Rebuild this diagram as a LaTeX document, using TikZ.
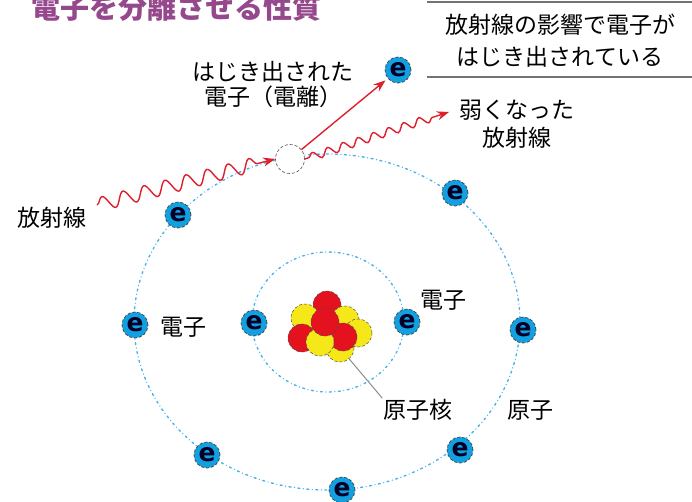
\documentclass[tikz,border=0pt]{standalone}
\usepackage{fontspec}
\newfontfamily\jpfont{Noto Sans CJK JP}
\newfontfamily\efont{DejaVu Sans}
\usetikzlibrary{decorations.pathmorphing,arrows.meta}

\definecolor{raycol}{RGB}{222,32,44}
\definecolor{orbitcol}{RGB}{70,180,235}
\definecolor{ecol}{RGB}{18,160,225}
\definecolor{titlecol}{RGB}{150,72,140}
\definecolor{nred}{RGB}{228,18,30}
\definecolor{nyellow}{RGB}{246,232,24}

\begin{document}
\begin{tikzpicture}[x=1pt,y=-1pt,font=\jpfont\fontsize{23}{25}\selectfont,
    orbit/.style={orbitcol,line width=1.4pt,line cap=round,dash pattern=on 0pt off 3.5pt on 2pt off 3.5pt},
    elec/.style={circle,draw=black!75,densely dashed,line width=0.7pt,fill=ecol,minimum size=26pt,inner sep=0pt,
      font=\efont\bfseries\fontsize{25}{25}\selectfont,text=black!85!blue},
    ball/.style={circle,draw=black!70,densely dashed,line width=0.5pt,minimum size=28pt,inner sep=0pt},
    ray/.style={raycol,line width=1.4pt,decorate,-{Stealth[length=12pt,width=9pt]}},
    lbl/.style={inner sep=1pt,align=center}]
  \useasboundingbox (0,0) rectangle (692,501);
  \clip (0,0) rectangle (692,501);

  % title and note
  \node[lbl,text=titlecol,font=\jpfont\bfseries\fontsize{29}{29}\selectfont] (title) at (176,8) {電子を分離させる性質};
  \node[lbl,font=\jpfont\fontsize{23}{32}\selectfont] (note) at (560,41) {放射線の影響で電子が\\はじき出されている};
  \draw[black!55,line width=1.4pt] (427,2) -- (692,2);
  \draw[black!55,line width=1.4pt] (427,77) -- (692,77);

  % orbits
  \draw[orbit] (327,322) ellipse [x radius=193pt,y radius=168pt];
  \draw[orbit] (328,322) ellipse [x radius=76pt,y radius=70pt];

  % vacated place on the outer orbit
  \node[circle,draw=black!60,densely dashed,line width=0.7pt,fill=white,minimum size=29pt,inner sep=0pt] (hole) at (290,159) {};

  % electrons
  \node[elec] (e1) at (178,215) {e};
  \node[elec] (e2) at (455,193) {e};
  \node[elec] (e3) at (135,325) {e};
  \node[elec] (e4) at (523,330) {e};
  \node[elec] (e5) at (207,455) {e};
  \node[elec] (e6) at (460,450) {e};
  \node[elec] (e7) at (342,490) {e};
  \node[elec] (i1) at (254,323) {e};
  \node[elec] (i2) at (407,322) {e};
  \node[elec] (eout) at (398,70) {e};

  % nucleus
  \foreach \px/\py/\c [count=\k] in {327/305/nred,305/318/nyellow,345/320/nyellow,358/333/nyellow,
      340/348/nyellow,302/338/nred,343/337/nred,320/342/nyellow,325/322/nred}
    \node[ball,fill=\c] (p\k) at (\px,\py) {};

  % radiation
  \coordinate (rayin) at (97,205);
  \coordinate (rayout) at (449,112);
  \draw[ray,decoration={snake,segment length=21.7pt,amplitude=7pt,post length=10pt}]
    (rayin) -- (hole.west);
  \draw[ray,decoration={snake,segment length=16pt,amplitude=4pt,pre length=4pt,post length=12pt}]
    (hole.east) -- (rayout);
  \draw[raycol,line width=1.4pt,-{Stealth[length=12pt,width=9pt]},shorten >=3pt] (hole) -- (eout);

  % labels
  \node[lbl] (ejlbl) at (273,84) {はじき出された\\電子（電離）};
  \node[lbl,font=\jpfont\fontsize{23}{28}\selectfont] (weaklbl) at (517,124) {弱くなった\\放射線};
  \node[lbl] (raylbl) at (52,218) {放射線};
  \node[lbl] (elbl1) at (183,327) {電子};
  \node[lbl] (elbl2) at (443,300) {電子};
  \node[lbl] (corelbl) at (418,410) {原子核};
  \node[lbl] (atomlbl) at (530,410) {原子};
  \draw[black!45,line width=1pt] (p5) -- (corelbl.north west);
\end{tikzpicture}
\end{document}
